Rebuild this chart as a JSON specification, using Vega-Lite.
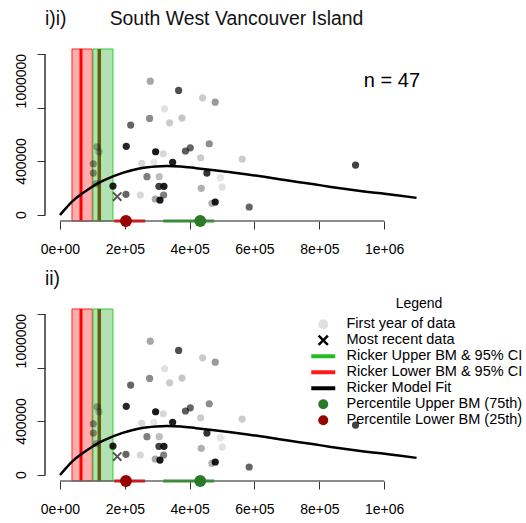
{
  "$schema": "https://vega.github.io/schema/vega-lite/v6.json",
  "padding": {"left": 14, "top": 8, "right": 0, "bottom": 0},
  "background": "white",
  "config": {
    "view": {"stroke": null},
    "font": "Liberation Sans",
    "title": {"font": "Liberation Sans", "fontSize": 19.4, "fontWeight": "normal", "anchor": "start", "frame": "group", "offset": 18, "color": "#111"},
    "axis": {"labelFont": "Liberation Sans", "labelFontSize": 14, "labelColor": "#000", "tickColor": "#333", "tickSize": 8, "grid": false, "domain": false, "title": null, "labelOverlap": false}
  },
  "datasets": {
    "pts": [
      {"spawners": 278500, "recruits": 1000000, "yr": 15},
      {"spawners": 366000, "recruits": 930600, "yr": 35},
      {"spawners": 440000, "recruits": 875400, "yr": 7},
      {"spawners": 478900, "recruits": 843000, "yr": 18},
      {"spawners": 322800, "recruits": 793300, "yr": 2},
      {"spawners": 276500, "recruits": 721600, "yr": 21},
      {"spawners": 376200, "recruits": 723900, "yr": 8},
      {"spawners": 338200, "recruits": 688800, "yr": 7},
      {"spawners": 218000, "recruits": 671600, "yr": 30},
      {"spawners": 204400, "recruits": 512700, "yr": 44},
      {"spawners": 295000, "recruits": 472400, "yr": 47},
      {"spawners": 318600, "recruits": 457500, "yr": 4},
      {"spawners": 387000, "recruits": 478000, "yr": 32},
      {"spawners": 401900, "recruits": 502200, "yr": 30},
      {"spawners": 460400, "recruits": 532100, "yr": 21},
      {"spawners": 433800, "recruits": 427600, "yr": 7},
      {"spawners": 562100, "recruits": 417900, "yr": 7},
      {"spawners": 347500, "recruits": 393300, "yr": 46},
      {"spawners": 251900, "recruits": 385800, "yr": 4},
      {"spawners": 289800, "recruits": 393300, "yr": 1},
      {"spawners": 911800, "recruits": 373100, "yr": 38},
      {"spawners": 453300, "recruits": 313400, "yr": 41},
      {"spawners": 268300, "recruits": 286100, "yr": 24},
      {"spawners": 306200, "recruits": 286100, "yr": 10},
      {"spawners": 494400, "recruits": 278600, "yr": 1},
      {"spawners": 305300, "recruits": 214200, "yr": 38},
      {"spawners": 320700, "recruits": 214200, "yr": 46},
      {"spawners": 500500, "recruits": 209000, "yr": 2},
      {"spawners": 435800, "recruits": 199300, "yr": 13},
      {"spawners": 163400, "recruits": 216400, "yr": 45},
      {"spawners": 203500, "recruits": 154500, "yr": 30},
      {"spawners": 247700, "recruits": 149300, "yr": 4},
      {"spawners": 319700, "recruits": 149300, "yr": 24},
      {"spawners": 293900, "recruits": 119400, "yr": 15},
      {"spawners": 308400, "recruits": 111900, "yr": 47},
      {"spawners": 468700, "recruits": 87300, "yr": 13},
      {"spawners": 478900, "recruits": 97000, "yr": 47},
      {"spawners": 583700, "recruits": 59700, "yr": 30},
      {"spawners": 114100, "recruits": 509700, "yr": 13},
      {"spawners": 120300, "recruits": 472400, "yr": 10},
      {"spawners": 102700, "recruits": 382800, "yr": 18},
      {"spawners": 102700, "recruits": 313400, "yr": 18},
      {"spawners": 112000, "recruits": 235000, "yr": 13}
    ],
    "recent": [{"spawners": 176500, "recruits": 138000}],
    "curve": [
      {"spawners": 0, "recruits": 0},
      {"spawners": 15000, "recruits": 42000},
      {"spawners": 39000, "recruits": 104000},
      {"spawners": 65000, "recruits": 155000},
      {"spawners": 90000, "recruits": 196000},
      {"spawners": 115000, "recruits": 234000},
      {"spawners": 142000, "recruits": 266000},
      {"spawners": 167000, "recruits": 292000},
      {"spawners": 193000, "recruits": 315000},
      {"spawners": 219000, "recruits": 333000},
      {"spawners": 245000, "recruits": 347000},
      {"spawners": 270000, "recruits": 357000},
      {"spawners": 296000, "recruits": 363000},
      {"spawners": 330000, "recruits": 366000},
      {"spawners": 373000, "recruits": 362000},
      {"spawners": 420000, "recruits": 350000},
      {"spawners": 476000, "recruits": 335000},
      {"spawners": 527000, "recruits": 320000},
      {"spawners": 579000, "recruits": 303000},
      {"spawners": 630000, "recruits": 285000},
      {"spawners": 682000, "recruits": 266000},
      {"spawners": 733000, "recruits": 247000},
      {"spawners": 784000, "recruits": 229000},
      {"spawners": 836000, "recruits": 210000},
      {"spawners": 887000, "recruits": 192000},
      {"spawners": 938000, "recruits": 176000},
      {"spawners": 990000, "recruits": 162000},
      {"spawners": 1045000, "recruits": 145000},
      {"spawners": 1100000, "recruits": 128000}
    ],
    "bands": [
      {"bm": "lower", "lo": 37000, "hi": 99600, "est": 64800},
      {"bm": "upper", "lo": 101800, "hi": 163400, "est": 121200}
    ],
    "pct": [
      {"bm": "lower", "lo": 167400, "hi": 262700, "est": 203500},
      {"bm": "upper", "lo": 318500, "hi": 475800, "est": 432600}
    ],
    "ylabels": [
      {"v": 0, "label": "0"},
      {"v": 400000, "label": "400000"},
      {"v": 1000000, "label": "1000000"}
    ],
    "note": [{"spawners": 1024000, "recruits": 1000000, "text": "n = 47"}],
    "legendrows": [
      {"label": "First year of data"},
      {"label": "Most recent data"},
      {"label": "Ricker Upper BM & 95% CI"},
      {"label": "Ricker Lower BM & 95% CI"},
      {"label": "Ricker Model Fit"},
      {"label": "Percentile Upper BM (75th)"},
      {"label": "Percentile Lower BM (25th)"}
    ]
  },
  "bounds": "flush",
  "spacing": 88,
  "vconcat": [
    {
      "title": {"text": "i)i)\u00a0\u00a0\u00a0\u00a0\u00a0\u00a0\u00a0\u00a0South West Vancouver Island"},
      "width": 391,
      "height": 172,
      "layer": [
        {
          "data": {"name": "bands"},
          "transform": [{"filter": "datum.bm == 'lower'"}],
          "mark": {"type": "rect", "fill": "#ff0000", "fillOpacity": 0.32, "stroke": "#ff2020", "strokeWidth": 1},
          "encoding": {
            "x": {"field": "lo", "type": "quantitative", "scale": {"domain": [-46250, 1160000], "nice": false, "zero": false},
              "axis": {"values": [0, 200000, 400000, 600000, 800000, 1000000], "labelPadding": 13, "labelOverlap": false, "labelExpr": "datum.value == 0 ? '0e+00' : datum.value == 1000000 ? '1e+06' : format(datum.value / 100000, 'd') + 'e+05'"}},
            "x2": {"field": "hi"}
          }
        },
        {
          "data": {"name": "bands"},
          "transform": [{"filter": "datum.bm == 'upper'"}],
          "mark": {"type": "rect", "fill": "#22aa22", "fillOpacity": 0.35, "stroke": "#33cc33", "strokeWidth": 1},
          "encoding": {"x": {"field": "lo", "type": "quantitative"}, "x2": {"field": "hi"}}
        },
        {
          "data": {"name": "bands"},
          "transform": [{"filter": "datum.bm == 'lower'"}],
          "mark": {"type": "rule", "color": "#ff0000", "strokeWidth": 3},
          "encoding": {"x": {"field": "est", "type": "quantitative"}}
        },
        {
          "data": {"name": "bands"},
          "transform": [{"filter": "datum.bm == 'upper'"}],
          "mark": {"type": "rule", "color": "#626010", "strokeWidth": 3.5},
          "encoding": {"x": {"field": "est", "type": "quantitative"}}
        },
        {
          "data": {"name": "pts"},
          "mark": {"type": "point", "filled": true, "size": 52, "color": "#000"},
          "encoding": {
            "x": {"field": "spawners", "type": "quantitative"},
            "y": {"field": "recruits", "type": "quantitative", "scale": {"domain": [-44800, 1240000], "nice": false, "zero": false},
              "axis": {"values": [0, 200000, 400000, 600000, 800000, 1000000, 1200000], "labels": false}},
            "opacity": {"field": "yr", "type": "quantitative", "scale": {"domain": [1, 47], "range": [0.1, 0.9]}, "legend": null}
          }
        },
        {
          "data": {"name": "ylabels"},
          "mark": {"type": "text", "font": "Liberation Sans", "fontSize": 14, "color": "#000", "angle": 270, "align": "center", "baseline": "bottom", "dy": -16},
          "encoding": {"x": {"datum": -46250}, "y": {"field": "v", "type": "quantitative"}, "text": {"field": "label"}}
        },
        {
          "data": {"name": "curve"},
          "mark": {"type": "line", "color": "#000", "strokeWidth": 2.5, "interpolate": "monotone"},
          "encoding": {"x": {"field": "spawners", "type": "quantitative"}, "y": {"field": "recruits", "type": "quantitative"}}
        },
        {
          "data": {"name": "recent"},
          "mark": {"type": "point", "shape": "M-1,-1L1,1M1,-1L-1,1", "size": 70, "stroke": "#111", "strokeWidth": 2, "filled": false},
          "encoding": {"x": {"field": "spawners", "type": "quantitative"}, "y": {"field": "recruits", "type": "quantitative"}}
        },
        {
          "data": {"name": "pct"},
          "mark": {"type": "rule", "color": "#666", "strokeWidth": 1},
          "encoding": {"x": {"datum": 0}, "x2": {"datum": 1000000}, "y": {"datum": -44800}}
        },
        {
          "data": {"name": "pct"},
          "mark": {"type": "rule", "color": "#333", "strokeWidth": 1},
          "encoding": {"x": {"datum": -46250}, "y": {"datum": 0}, "y2": {"datum": 1200000}}
        },
        {
          "data": {"name": "pct"},
          "transform": [{"filter": "datum.bm == 'lower'"}],
          "mark": {"type": "rule", "color": "#c81e1e", "strokeWidth": 3},
          "encoding": {"x": {"field": "lo", "type": "quantitative"}, "x2": {"field": "hi"}, "y": {"datum": -44800}}
        },
        {
          "data": {"name": "pct"},
          "transform": [{"filter": "datum.bm == 'upper'"}],
          "mark": {"type": "rule", "color": "#3c8c3c", "strokeWidth": 3},
          "encoding": {"x": {"field": "lo", "type": "quantitative"}, "x2": {"field": "hi"}, "y": {"datum": -44800}}
        },
        {
          "data": {"name": "pct"},
          "transform": [{"filter": "datum.bm == 'lower'"}],
          "mark": {"type": "point", "filled": true, "size": 140, "color": "#990000", "opacity": 1},
          "encoding": {"x": {"field": "est", "type": "quantitative"}, "y": {"datum": -44800}}
        },
        {
          "data": {"name": "pct"},
          "transform": [{"filter": "datum.bm == 'upper'"}],
          "mark": {"type": "point", "filled": true, "size": 140, "color": "#2a7a2a", "opacity": 1},
          "encoding": {"x": {"field": "est", "type": "quantitative"}, "y": {"datum": -44800}}
        },
        {
          "data": {"name": "note"},
          "mark": {"type": "text", "font": "Liberation Sans", "fontSize": 20, "color": "#000", "baseline": "middle", "align": "center"},
          "encoding": {"x": {"field": "spawners", "type": "quantitative"}, "y": {"field": "recruits", "type": "quantitative"}, "text": {"field": "text"}}
        }
      ]
    },
    {
      "title": {"text": "ii)"},
      "width": 391,
      "height": 172,
      "layer": [
        {
          "data": {"name": "bands"},
          "transform": [{"filter": "datum.bm == 'lower'"}],
          "mark": {"type": "rect", "fill": "#ff0000", "fillOpacity": 0.32, "stroke": "#ff2020", "strokeWidth": 1},
          "encoding": {
            "x": {"field": "lo", "type": "quantitative", "scale": {"domain": [-46250, 1160000], "nice": false, "zero": false},
              "axis": {"values": [0, 200000, 400000, 600000, 800000, 1000000], "labelPadding": 13, "labelOverlap": false, "labelExpr": "datum.value == 0 ? '0e+00' : datum.value == 1000000 ? '1e+06' : format(datum.value / 100000, 'd') + 'e+05'"}},
            "x2": {"field": "hi"}
          }
        },
        {
          "data": {"name": "bands"},
          "transform": [{"filter": "datum.bm == 'upper'"}],
          "mark": {"type": "rect", "fill": "#22aa22", "fillOpacity": 0.35, "stroke": "#33cc33", "strokeWidth": 1},
          "encoding": {"x": {"field": "lo", "type": "quantitative"}, "x2": {"field": "hi"}}
        },
        {
          "data": {"name": "bands"},
          "transform": [{"filter": "datum.bm == 'lower'"}],
          "mark": {"type": "rule", "color": "#ff0000", "strokeWidth": 3},
          "encoding": {"x": {"field": "est", "type": "quantitative"}}
        },
        {
          "data": {"name": "bands"},
          "transform": [{"filter": "datum.bm == 'upper'"}],
          "mark": {"type": "rule", "color": "#626010", "strokeWidth": 3.5},
          "encoding": {"x": {"field": "est", "type": "quantitative"}}
        },
        {
          "data": {"name": "pts"},
          "mark": {"type": "point", "filled": true, "size": 52, "color": "#000"},
          "encoding": {
            "x": {"field": "spawners", "type": "quantitative"},
            "y": {"field": "recruits", "type": "quantitative", "scale": {"domain": [-44800, 1240000], "nice": false, "zero": false},
              "axis": {"values": [0, 200000, 400000, 600000, 800000, 1000000, 1200000], "labels": false}},
            "opacity": {"field": "yr", "type": "quantitative", "scale": {"domain": [1, 47], "range": [0.1, 0.9]}, "legend": null}
          }
        },
        {
          "data": {"name": "ylabels"},
          "mark": {"type": "text", "font": "Liberation Sans", "fontSize": 14, "color": "#000", "angle": 270, "align": "center", "baseline": "bottom", "dy": -16},
          "encoding": {"x": {"datum": -46250}, "y": {"field": "v", "type": "quantitative"}, "text": {"field": "label"}}
        },
        {
          "data": {"name": "curve"},
          "mark": {"type": "line", "color": "#000", "strokeWidth": 2.5, "interpolate": "monotone"},
          "encoding": {"x": {"field": "spawners", "type": "quantitative"}, "y": {"field": "recruits", "type": "quantitative"}}
        },
        {
          "data": {"name": "recent"},
          "mark": {"type": "point", "shape": "M-1,-1L1,1M1,-1L-1,1", "size": 70, "stroke": "#111", "strokeWidth": 2, "filled": false},
          "encoding": {"x": {"field": "spawners", "type": "quantitative"}, "y": {"field": "recruits", "type": "quantitative"}}
        },
        {
          "data": {"name": "pct"},
          "mark": {"type": "rule", "color": "#666", "strokeWidth": 1},
          "encoding": {"x": {"datum": 0}, "x2": {"datum": 1000000}, "y": {"datum": -44800}}
        },
        {
          "data": {"name": "pct"},
          "mark": {"type": "rule", "color": "#333", "strokeWidth": 1},
          "encoding": {"x": {"datum": -46250}, "y": {"datum": 0}, "y2": {"datum": 1200000}}
        },
        {
          "data": {"name": "pct"},
          "transform": [{"filter": "datum.bm == 'lower'"}],
          "mark": {"type": "rule", "color": "#c81e1e", "strokeWidth": 3},
          "encoding": {"x": {"field": "lo", "type": "quantitative"}, "x2": {"field": "hi"}, "y": {"datum": -44800}}
        },
        {
          "data": {"name": "pct"},
          "transform": [{"filter": "datum.bm == 'upper'"}],
          "mark": {"type": "rule", "color": "#3c8c3c", "strokeWidth": 3},
          "encoding": {"x": {"field": "lo", "type": "quantitative"}, "x2": {"field": "hi"}, "y": {"datum": -44800}}
        },
        {
          "data": {"name": "pct"},
          "transform": [{"filter": "datum.bm == 'lower'"}],
          "mark": {"type": "point", "filled": true, "size": 140, "color": "#990000", "opacity": 1},
          "encoding": {"x": {"field": "est", "type": "quantitative"}, "y": {"datum": -44800}}
        },
        {
          "data": {"name": "pct"},
          "transform": [{"filter": "datum.bm == 'upper'"}],
          "mark": {"type": "point", "filled": true, "size": 140, "color": "#2a7a2a", "opacity": 1},
          "encoding": {"x": {"field": "est", "type": "quantitative"}, "y": {"datum": -44800}}
        },
        {
          "data": {"name": "legendrows"},
          "transform": [{"filter": "false"}],
          "mark": {"type": "point", "filled": true, "size": 64, "opacity": 1},
          "encoding": {
            "color": {"field": "label", "type": "nominal",
              "scale": {"domain": ["First year of data", "Most recent data", "Ricker Upper BM & 95% CI", "Ricker Lower BM & 95% CI", "Ricker Model Fit", "Percentile Upper BM (75th)", "Percentile Lower BM (25th)"],
                "range": ["#e0e0e0", "#000000", "#22bb22", "#ff1a1a", "#000000", "#2a7a2a", "#990000"]},
              "legend": {"orient": "none", "legendX": 271, "legendY": 248, "title": "Legend", "titleAnchor": "middle", "titleFont": "Liberation Sans", "titleFontSize": 14, "titleFontWeight": "normal", "titleColor": "#000", "titlePadding": 6,
                "labelFont": "Liberation Sans", "labelFontSize": 14.5, "labelColor": "#000", "labelOffset": 16, "rowPadding": 1, "symbolStrokeWidth": 0, "padding": 0, "labelLimit": 300}},
            "shape": {"field": "label", "type": "nominal",
              "scale": {"domain": ["First year of data", "Most recent data", "Ricker Upper BM & 95% CI", "Ricker Lower BM & 95% CI", "Ricker Model Fit", "Percentile Upper BM (75th)", "Percentile Lower BM (25th)"],
                "range": ["circle", "M-1.1,-0.75L-0.75,-1.1L0,-0.35L0.75,-1.1L1.1,-0.75L0.35,0L1.1,0.75L0.75,1.1L0,0.35L-0.75,1.1L-1.1,0.75L-0.35,0Z", "M-2.4,-0.4H2.4V0.4H-2.4Z", "M-2.4,-0.4H2.4V0.4H-2.4Z", "M-2.4,-0.4H2.4V0.4H-2.4Z", "circle", "circle"]}}
          }
        }
      ]
    }
  ]
}
